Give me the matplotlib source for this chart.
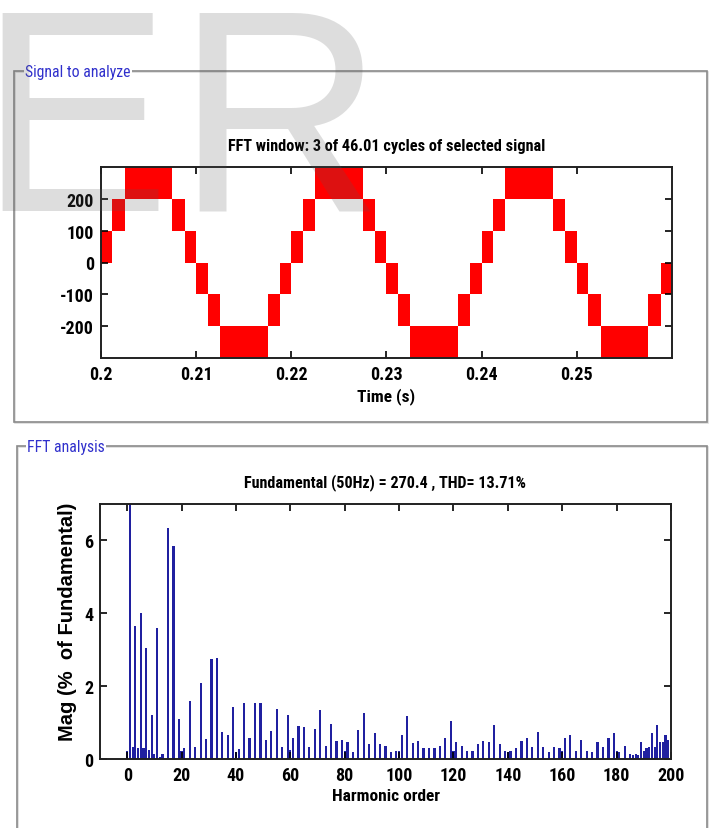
import numpy as np
import matplotlib.pyplot as plt
from matplotlib import font_manager as fm
from matplotlib.patches import Rectangle

installed = {f.name for f in fm.fontManager.ttflist}
narrow = [n for n in ['Roboto Condensed', 'Archivo Narrow', 'Liberation Sans Narrow'] if n in installed]
plt.rcParams['font.family'] = narrow[:1] + ['DejaVu Sans']
plt.rcParams['font.weight'] = 'bold'
plt.rcParams['axes.titleweight'] = 'bold'
plt.rcParams['axes.labelweight'] = 'bold'
plt.rcParams['axes.unicode_minus'] = False

# Signal to analyze: switching instants (s) and the level band between them
t_edges = [0.2000, 0.2012, 0.2025, 0.2075, 0.2088, 0.2100, 0.2112, 0.2125, 0.2175, 0.2188,
           0.2200, 0.2212, 0.2225, 0.2275, 0.2288, 0.2300, 0.2312, 0.2325, 0.2375, 0.2388,
           0.2400, 0.2412, 0.2425, 0.2475, 0.2488, 0.2500, 0.2512, 0.2525, 0.2575, 0.2588,
           0.2600]
band_low = [0, 100, 200, 100, 0, -100, -200, -300, -200, -100] * 3
band_high = [100, 200, 300, 200, 100, 0, -100, -200, -100, 0] * 3

# FFT analysis: magnitudes in % of fundamental
odd_orders = list(range(1, 200, 2))
odd_mags = [100, 3.64, 4.01, 3.05, 1.21, 3.6, 0.15, 6.35, 5.85, 1.1,
            0.3, 1.6, 0.33, 2.08, 0.55, 2.75, 2.78, 0.75, 0.66, 1.42,
            0.28, 1.55, 0.57, 1.55, 1.55, 0.52, 0.78, 1.38, 0.32, 1.21,
            0.57, 0.91, 0.88, 0.32, 0.83, 1.35, 0.36, 0.96, 0.5, 0.52,
            0.46, 0.2, 0.79, 1.26, 0.41, 0.71, 0.41, 0.36, 0.2, 0.23,
            0.66, 1.18, 0.45, 0.5, 0.3, 0.3, 0.3, 0.37, 0.58, 1.05,
            0.46, 0.36, 0.23, 0.23, 0.41, 0.5, 0.46, 0.92, 0.41, 0.23,
            0.23, 0.3, 0.5, 0.57, 0.32, 0.75, 0.32, 0.18, 0.32, 0.3,
            0.57, 0.66, 0.23, 0.52, 0.23, 0.18, 0.46, 0.32, 0.57, 0.71,
            0.2, 0.36, 0.15, 0.15, 0.46, 0.3, 0.71, 0.92, 0.48, 0.52]
even_orders = [0, 2, 4, 6, 8, 10, 12, 20, 40, 60, 80, 100, 120, 140, 160, 180,
               186, 188, 190, 192, 194, 196, 198]
even_mags = [0.23, 0.33, 0.3, 0.3, 0.25, 0.15, 0.05, 0.22, 0.2, 0.25, 0.23, 0.23,
             0.23, 0.2, 0.23, 0.23, 0.1, 0.1, 0.23, 0.32, 0.33, 0.48, 0.66]

fig = plt.figure(figsize=(7.1, 8.29), dpi=100)
W, H = 710, 829


def fx(px):
    return px / W


def fy(py):
    return 1 - py / H


# group frames
for (x0, y0, x1, y1) in [(14, 72, 707, 423), (17, 447, 707, 845)]:
    fig.patches.append(Rectangle((fx(x0) + 1.2 / W, fy(y1) - 1.2 / H), fx(x1 - x0), (y1 - y0) / H,
                                 transform=fig.transFigure, fill=False, ec='#dcdcdc', lw=1.2))
    fig.patches.append(Rectangle((fx(x0), fy(y1)), fx(x1 - x0), (y1 - y0) / H,
                                 transform=fig.transFigure, fill=False, ec='#8a8a8a', lw=1.2))
fig.text(fx(25), fy(73), 'Signal to analyze', color='#3030cc', fontsize=11.3, weight='normal',
         va='center', ha='left', bbox=dict(fc='white', ec='none', pad=1.0))
fig.text(fx(27), fy(448), 'FFT analysis', color='#3030cc', fontsize=11.3, weight='normal',
         va='center', ha='left', bbox=dict(fc='white', ec='none', pad=1.0))

# top: time signal
ax1 = fig.add_axes([fx(101), fy(359), fx(571), 191 / H])
lo = band_low + [band_low[-1]]
hi = band_high + [band_high[-1]]
ax1.fill_between(t_edges, lo, hi, step='post', color='#ff0000', lw=0)
ax1.set_xlim(0.2, 0.26)
ax1.set_ylim(-300, 300)
ax1.set_xticks([0.2, 0.21, 0.22, 0.23, 0.24, 0.25])
ax1.set_xticklabels(['0.2', '0.21', '0.22', '0.23', '0.24', '0.25'])
ax1.set_yticks([-200, -100, 0, 100, 200])
ax1.set_title('FFT window: 3 of 46.01 cycles of selected signal', fontsize=11.7, pad=12)
ax1.set_xlabel('Time (s)', fontsize=12.5, labelpad=3)

# bottom: harmonic spectrum
ax2 = fig.add_axes([fx(100), fy(760), fx(571), 255 / H])
ax2.bar(odd_orders, odd_mags, width=0.8, color='#2020a0', lw=0)
ax2.bar(even_orders, even_mags, width=0.8, color='#2020a0', lw=0)
ax2.set_xlim(-10, 200)
ax2.set_ylim(0, 7)
ax2.set_xticks(range(0, 201, 20))
ax2.set_yticks([0, 2, 4, 6])
ax2.set_title('Fundamental (50Hz) = 270.4 , THD= 13.71%', fontsize=11.6, pad=13)
ax2.set_xlabel('Harmonic order', fontsize=12.5, labelpad=3)
ax2.set_ylabel('Mag (%  of Fundamental)', fontsize=14.5, family='Liberation Sans')
ax2.yaxis.set_label_coords(-0.040, 0.54)

for ax in (ax1, ax2):
    ax.tick_params(direction='in', top=True, right=True, length=5, width=1.2,
                   labelsize=13, pad=5)
    for s in ax.spines.values():
        s.set_linewidth(1.4)
        s.set_color('#202020')

# watermark
mark = dict(fontsize=207, family='Liberation Sans', weight='normal', color=(0.35, 0.35, 0.35),
            alpha=0.2, va='baseline', ha='left', zorder=10)
fig.text(fx(-22), fy(211), 'E', **mark)
fig.text(fx(175), fy(211), 'R', **mark)

fig.savefig('out.png', dpi=100)
